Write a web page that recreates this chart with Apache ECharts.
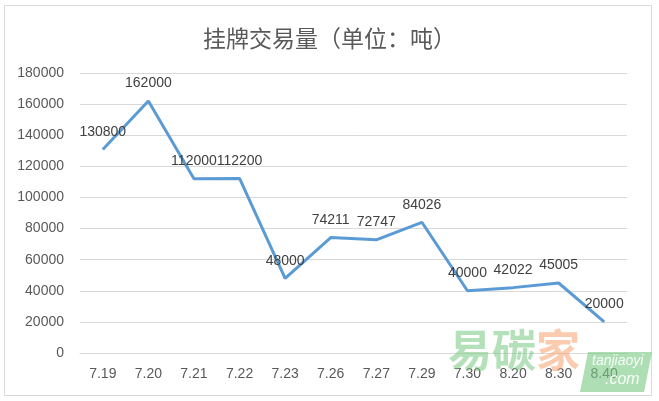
<!DOCTYPE html>
<html><head><meta charset="utf-8">
<script src="https://cdn.jsdelivr.net/npm/echarts@6/dist/echarts.min.js"></script>
<style>html,body{margin:0;padding:0;background:#fff}#c{width:659px;height:401px}</style>
</head><body><div id="c"></div>
<script>
var title = '挂牌交易量（单位：吨）';
var categories = ['7.19','7.20','7.21','7.22','7.23','7.26','7.27','7.29','7.30','8.20','8.30','8.40'];
var volumes = [130800,162000,112000,112200,48000,74211,72747,84026,40000,42022,45005,20000];

var chart = echarts.init(document.getElementById('c'));
chart.setOption({
  animation: false,
  backgroundColor: '#fff',
  title: {
    text: title, left: 'center', top: 22,
    textStyle: {fontFamily: 'Noto Sans CJK SC', fontSize: 23, fontWeight: 'normal', color: '#595959'}
  },
  grid: {left: 80, right: 32, top: 73, bottom: 48},
  xAxis: {
    type: 'category', data: categories, boundaryGap: true,
    axisLine: {show: true, lineStyle: {color: '#d9d9d9', width: 1}},
    axisTick: {show: false},
    axisLabel: {color: '#595959', fontSize: 14, fontFamily: 'Liberation Sans', margin: 14}
  },
  yAxis: {
    type: 'value', min: 0, max: 180000, interval: 20000,
    axisLine: {show: false}, axisTick: {show: false},
    splitLine: {lineStyle: {color: '#d9d9d9', width: 1}},
    axisLabel: {color: '#595959', fontSize: 14, fontFamily: 'Liberation Sans', margin: 16, formatter: function (v) { return String(v); }}
  },
  series: [{
    type: 'line', data: volumes, symbol: 'circle', symbolSize: 1, showSymbol: true,
    itemStyle: {color: '#5b9bd5', opacity: 0},
    lineStyle: {color: '#5b9bd5', width: 3},
    label: {show: true, position: 'top', distance: 10, color: '#404040', fontSize: 14, fontFamily: 'Liberation Sans', opacity: 1}
  }],
  graphic: [
    {type: 'rect', shape: {x: 4.5, y: 5.5, width: 647, height: 390}, style: {fill: 'none', stroke: '#d9d9d9', lineWidth: 1}, silent: true},
    {type: 'text', left: 448, top: 328, z: 100, style: {text: '易碳', font: 'bold 44px "Noto Sans CJK SC"', fill: 'rgba(120,200,130,0.55)'}},
    {type: 'text', left: 536, top: 328, z: 100, style: {text: '家', font: 'bold 44px "Noto Sans CJK SC"', fill: 'rgba(245,160,110,0.55)'}},
    {type: 'polygon', z: 99, shape: {points: [[588,352],[652,352],[644,392],[580,392]]}, style: {fill: 'rgba(120,200,130,0.6)'}},
    {type: 'text', left: 592, top: 354, z: 100, style: {text: 'tanjiaoyi', font: 'italic 14px "Liberation Sans"', fill: 'rgba(255,255,255,0.9)'}},
    {type: 'text', left: 605, top: 372, z: 100, style: {text: '.com', font: 'italic 16px "Liberation Sans"', fill: 'rgba(255,255,255,0.9)'}}
  ]
});
</script></body></html>
